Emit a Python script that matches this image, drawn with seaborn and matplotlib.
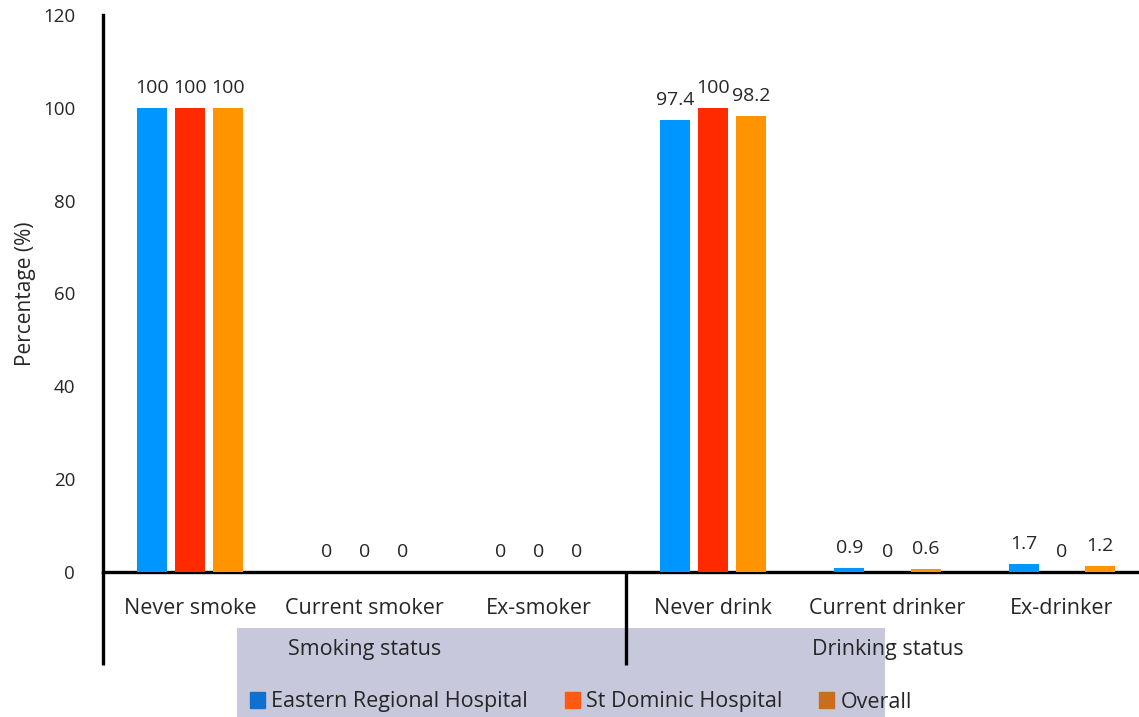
import matplotlib
matplotlib.use("Agg")
import matplotlib.pyplot as plt
import matplotlib.patches as mpatches
import matplotlib.transforms as mtransforms
import seaborn as sns
import pandas as pd

categories = ["Never smoke", "Current smoker", "Ex-smoker",
              "Never drink", "Current drinker", "Ex-drinker"]
groups = ["Smoking status", "Drinking status"]
series = ["Eastern Regional Hospital", "St Dominic Hospital", "Overall"]
eastern = [100, 0, 0, 97.4, 0.9, 1.7]
dominic = [100, 0, 0, 100, 0, 0]
overall = [100, 0, 0, 98.2, 0.6, 1.2]
label_text = {
    "Eastern Regional Hospital": ["100", "0", "0", "97.4", "0.9", "1.7"],
    "St Dominic Hospital": ["100", "0", "0", "100", "0", "0"],
    "Overall": ["100", "0", "0", "98.2", "0.6", "1.2"],
}
yticks = [0, 20, 40, 60, 80, 100, 120]

bar_colors = ["#0096FF", "#FF2A00", "#FF9300"]
legend_colors = ["#1070D0", "#FF5A14", "#C86E1E"]

rows = []
for s, vals in zip(series, [eastern, dominic, overall]):
    for c, v in zip(categories, vals):
        rows.append({"category": c, "series": s, "value": v})
df = pd.DataFrame(rows)

sns.set_theme(style="white")
plt.rcParams["font.family"] = ["Open Sans", "DejaVu Sans"]

fig = plt.figure(figsize=(11.39, 7.17), dpi=100)
W, H = 1139, 717
left, right, top, bottom = 103, 1149, 15, 572
ax = fig.add_axes([left / W, (H - bottom) / H, (right - left) / W, (bottom - top) / H])
ax.set_zorder(2)

# watermark-like background band at bottom
fig.patches.append(mpatches.Rectangle((237 / W, 0), (885 - 237) / W, (717 - 628) / H,
                                      transform=fig.transFigure, facecolor="#C8C8DC",
                                      edgecolor="none", zorder=-5))

sns.barplot(data=df, x="category", y="value", hue="series", order=categories,
            hue_order=series, palette=bar_colors, width=0.655, gap=0.21,
            saturation=1, linewidth=0, ax=ax, legend=False, zorder=3)

ax.set_xlim(-0.5, 5.5)
ax.set_ylim(0, 120)
ax.set_yticks(yticks)
ax.set_yticklabels([str(t) for t in yticks], fontsize=13.5)
ax.tick_params(axis="y", length=0, pad=20)
ax.tick_params(axis="x", length=0, pad=19, labelsize=15.5)
ax.set_xlabel("")
ax.set_ylabel("Percentage (%)", fontsize=15, labelpad=5)
ax.patch.set_alpha(0)

for sp in ["top", "right"]:
    ax.spines[sp].set_visible(False)
for sp in ["left", "bottom"]:
    ax.spines[sp].set_color("black")
    ax.spines[sp].set_linewidth(2.4)

# value labels
for container, s in zip(ax.containers, series):
    ax.bar_label(container, labels=label_text[s], padding=8, fontsize=14)

# extended axis and group separator below the x-axis
trans = mtransforms.blended_transform_factory(ax.transData, ax.transAxes)
ext = -(665 - 572) / (572 - 15)
ax.plot([-0.5, -0.5], [0, ext], transform=trans, color="black", lw=2.4,
        clip_on=False, solid_capstyle="butt")
ax.plot([2.5, 2.5], [0, ext], transform=trans, color="black", lw=2.4,
        clip_on=False, solid_capstyle="butt")

# group labels
gy = -(649 - 572) / (572 - 15)
ax.text(1, gy, groups[0], transform=trans, ha="center", va="center", fontsize=15.5)
ax.text(4, gy, groups[1], transform=trans, ha="center", va="center", fontsize=15.5)

handles = [mpatches.Patch(color=c, label=s) for c, s in zip(legend_colors, series)]
leg = fig.legend(handles=handles, loc="center", bbox_to_anchor=(581 / W, (717 - 702) / H),
                 ncol=3, frameon=False, fontsize=15.5, handlelength=0.7, handleheight=0.7,
                 handletextpad=0.3, columnspacing=1.7)

fig.savefig("out.png", dpi=100)
